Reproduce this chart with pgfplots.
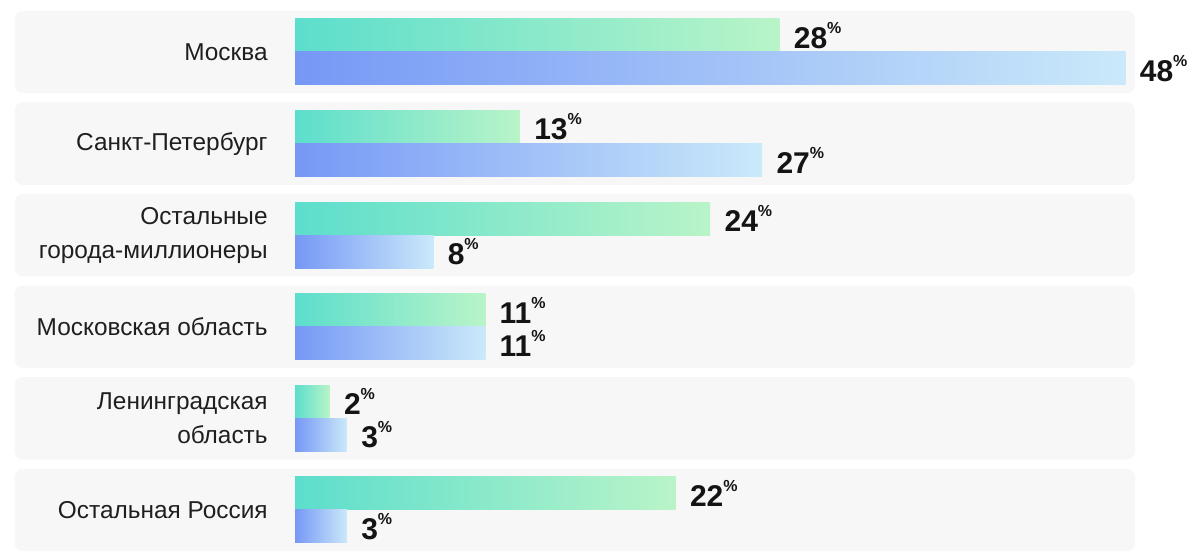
\documentclass[border=0pt]{standalone}
\usepackage{pgfplots}
\pgfplotsset{compat=1.18}
\usepackage{fontspec}
\setmainfont{Liberation Sans}
\definecolor{gA}{RGB}{92,222,204}
\definecolor{gB}{RGB}{185,244,200}
\definecolor{bA}{RGB}{118,152,245}
\definecolor{bB}{RGB}{202,233,250}
\definecolor{band}{RGB}{247,247,248}
\newcommand{\pct}{\raisebox{0.5em}{\fontsize{8}{8}\selectfont\%}}
\pgfplotsset{
  gbar/.style={draw=none, left color=gA, right color=gB, bar shift=8.25pt},
  bbar/.style={draw=none, left color=bA, right color=bB, bar shift=-8.25pt},
}
\begin{document}
\begin{tikzpicture}
\begin{axis}[
  set layers,
  at={(0,0)}, anchor=south west,
  scale only axis, width=427.5pt, height=274.8pt,
  xmin=0, xmax=49.42, ymin=-0.5, ymax=5.5,
  axis line style={draw=none},
  xtick=\empty, ytick={0,1,2,3,4,5},
  yticklabels={Остальная Россия,{Ленинградская\\область},Московская область,{Остальные\\города-миллионеры},Санкт-Петербург,Москва},
  major tick length=0pt,
  yticklabel style={align=right, anchor=east, inner sep=0pt, xshift=-13.5pt,
    font=\fontsize{12.2}{17}\selectfont, text=black!88},
  clip=false,
  xbar, bar width=16.5pt,
  point meta=x,
  /pgf/number format/assume math mode=true,
  nodes near coords={\textbf{\pgfmathprintnumber\pgfplotspointmeta}\pct},
  every node near coord/.append style={shade=false, fill=none, text=black!92,
    font=\fontsize{15}{16}\bfseries\selectfont, anchor=west, inner sep=1pt, xshift=6pt},
]
\begin{pgfonlayer}{axis background}
\pgfplotsinvokeforeach{0,...,5}{
  \fill[band, rounded corners=4pt] (axis cs:-16.2,#1-0.45) rectangle (axis cs:48.55,#1+0.45);
}
\end{pgfonlayer}
% green series
\addplot[gbar] coordinates {(28,5)};
\addplot[gbar] coordinates {(13,4)};
\addplot[gbar] coordinates {(24,3)};
\addplot[gbar] coordinates {(11,2)};
\addplot[gbar] coordinates {(2,1)};
\addplot[gbar] coordinates {(22,0)};
% blue series
\addplot[bbar] coordinates {(48,5)};
\addplot[bbar] coordinates {(27,4)};
\addplot[bbar] coordinates {(8,3)};
\addplot[bbar] coordinates {(11,2)};
\addplot[bbar] coordinates {(3,1)};
\addplot[bbar] coordinates {(3,0)};
\end{axis}
\pgfresetboundingbox
\path[use as bounding box] (-147.5pt,0.4pt) rectangle (454pt,277.9pt);
\end{tikzpicture}
\end{document}
